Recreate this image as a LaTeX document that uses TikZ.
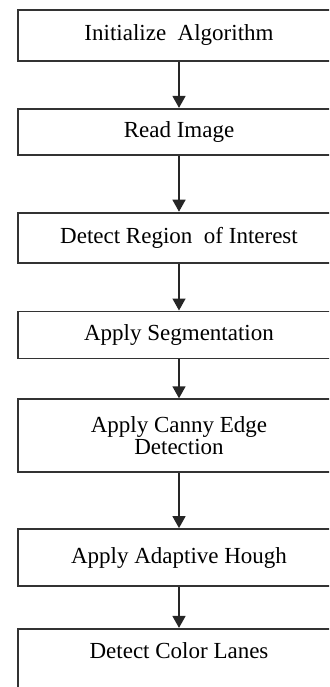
\documentclass[tikz,border=0pt]{standalone}
\usepackage{fontspec}
\setmainfont{Liberation Serif}
\usepackage{tikz}
\usetikzlibrary{positioning,arrows.meta}

\begin{document}
\begin{tikzpicture}[
  x=1pt, y=1pt,
  box/.style={draw=black!80, line width=1.8pt, align=center, font=\fontsize{23}{22}\selectfont,
    minimum width=322pt, inner sep=0pt, text=black},
  arr/.style={-{Triangle[length=12pt, width=13pt]}, line width=1.5pt, draw=black!85}
]
\clip (0,0) rectangle (329,-687);

\node[box, minimum height=51pt] (init) at (179,-35.5) {Initialize\ \ Algorithm};
\node[box, minimum height=46pt, below=46pt of init] (read) {Read Image};
\node[box, minimum height=50pt, below=56pt of read] (roi) {Detect Region\ \ of Interest};
\node[box, minimum height=47pt, below=47pt of roi] (seg) {Apply Segmentation};
\node[box, minimum height=73pt, below=39pt of seg] (canny) {Apply Canny Edge\\Detection};
\node[box, minimum height=57pt, below=55pt of canny] (hough) {Apply Adaptive Hough};
\node[box, text depth=60pt, text height=26pt, inner ysep=4pt, below=41pt of hough] (lanes) {Detect Color Lanes};

\draw[arr] (init) -- (read);
\draw[arr] (read) -- (roi);
\draw[arr] (roi) -- (seg);
\draw[arr] (seg) -- (canny);
\draw[arr] (canny) -- (hough);
\draw[arr] (hough) -- (lanes);
\end{tikzpicture}
\end{document}
